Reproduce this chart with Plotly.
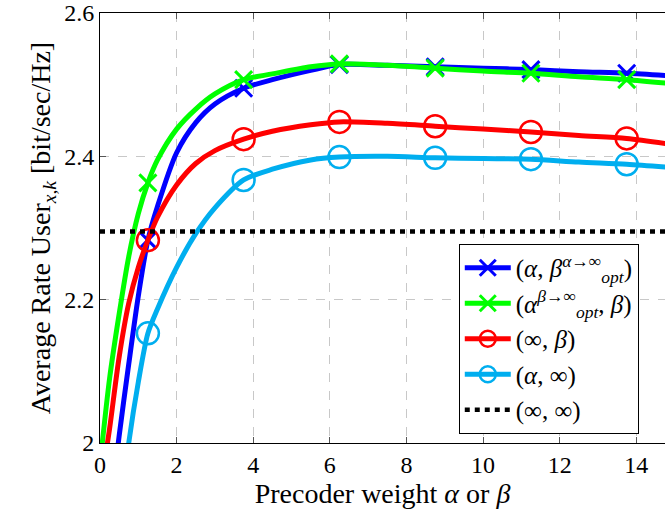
import plotly.graph_objects as go

# ---------------- data ----------------
x_curve = [0, 0.25, 0.5, 0.75, 1.0, 1.25, 1.5, 2.0, 2.5, 3.0, 3.75, 4.5, 5.5,
           6.25, 7.5, 8.75, 10.0, 11.25, 12.5, 13.75, 15.0]

rate_alpha_betaopt = [1.80, 1.90, 2.01, 2.11, 2.205, 2.283, 2.33, 2.405, 2.447, 2.473,
                      2.495, 2.507, 2.52, 2.528, 2.527, 2.525, 2.523, 2.521, 2.518, 2.516, 2.512]
rate_alphaopt_beta = [1.97, 2.09, 2.18, 2.26, 2.32, 2.363, 2.395, 2.438, 2.466, 2.487,
                      2.507, 2.515, 2.525, 2.529, 2.527, 2.523, 2.519, 2.516, 2.511, 2.507, 2.501]
rate_inf_beta = [1.93, 2.02, 2.12, 2.195, 2.245, 2.283, 2.315, 2.36, 2.39, 2.408,
                 2.424, 2.435, 2.444, 2.448, 2.446, 2.442, 2.438, 2.434, 2.429, 2.425, 2.416]
rate_alpha_inf = [1.60, 1.75, 1.89, 2.0, 2.085, 2.153, 2.187, 2.245, 2.292, 2.328,
                  2.367, 2.382, 2.395, 2.399, 2.4, 2.398, 2.397, 2.396, 2.392, 2.389, 2.384]
x_ref = [0, 15]
rate_inf_inf = [2.295, 2.295]

marker_x = [1.25, 3.75, 6.25, 8.75, 11.25, 13.75]

x_ticks = [0, 2, 4, 6, 8, 10, 12, 14]
y_ticks = [2.0, 2.2, 2.4, 2.6]
y_tick_labels = ["2", "2.2", "2.4", "2.6"]

names = ["(<i>α</i>, <i>β</i><sup><i>α</i>→∞</sup><sub><i>opt</i></sub>)",
         "(<i>α</i><sup><i>β</i>→∞</sup><sub><i>opt</i></sub>, <i>β</i>)",
         "(∞, <i>β</i>)",
         "(<i>α</i>, ∞)",
         "(∞, ∞)"]

# ---------------- figure ----------------
FONT = "Liberation Serif"
fig = go.Figure()

series = [
    (rate_alpha_betaopt, "#0000ff", "x-thin-open", 17, 3),
    (rate_alphaopt_beta, "#00ff00", "x-thin-open", 17, 3),
    (rate_inf_beta, "#ff0000", "circle-open", 22, 2.5),
    (rate_alpha_inf, "#00aeef", "circle-open", 22, 2.5),
]

for i, (vals, col, sym, msz, mlw) in enumerate(series):
    mk_idx = [x_curve.index(m) for m in marker_x]
    fig.add_trace(go.Scatter(x=x_curve, y=vals, mode="lines",
                             line=dict(color=col, width=5, shape="spline", smoothing=0.8),
                             showlegend=False, hoverinfo="skip"))
    fig.add_trace(go.Scatter(x=[x_curve[k] for k in mk_idx], y=[vals[k] for k in mk_idx],
                             mode="markers",
                             marker=dict(symbol=sym, size=msz, color=col,
                                         line=dict(color=col, width=mlw)),
                             showlegend=False, hoverinfo="skip"))
    # legend entry
    fig.add_trace(go.Scatter(x=[None], y=[None], mode="lines+markers", name=names[i],
                             legendgroup=f"g{i}",
                             line=dict(color=col, width=5),
                             marker=dict(symbol=sym, size=msz, color=col,
                                         line=dict(color=col, width=mlw))))

fig.add_trace(go.Scatter(x=x_ref, y=rate_inf_inf, mode="lines", name=names[4],
                         legendgroup="g4",
                         line=dict(color="black", width=4.5, dash="5px,5px")))

fig.update_layout(
    width=665, height=518,
    margin=dict(l=100, r=0, t=13, b=75),
    paper_bgcolor="white", plot_bgcolor="white",
    font=dict(family=FONT, size=24, color="black"),
    showlegend=True,
    legend=dict(x=0.635, y=0.021, xanchor="left", yanchor="bottom",
                bgcolor="white", bordercolor="black", borderwidth=1,
                font=dict(family=FONT, size=25), itemwidth=46,
                tracegroupgap=0),
)

fig.update_xaxes(range=[0, 14.75], tickvals=x_ticks, ticks="inside", ticklen=6,
                 tickcolor="#555555", showline=True, linecolor="black", linewidth=1,
                 mirror="ticks", showgrid=True, gridcolor="#c8c8c8", griddash="dash",
                 gridwidth=1, zeroline=False, tickfont=dict(size=24), automargin=False,
                 ticklabeloverflow="allow",
                 title=dict(text="Precoder weight <i>α</i> or <i>β</i>", standoff=6,
                            font=dict(size=28)))
fig.update_yaxes(range=[2.0, 2.6], tickvals=y_ticks, ticktext=y_tick_labels,
                 ticks="inside", ticklen=6, tickcolor="#555555", showline=True,
                 linecolor="black", linewidth=1, mirror=False, showgrid=True,
                 gridcolor="#c8c8c8", griddash="dash", gridwidth=1, zeroline=False,
                 tickfont=dict(size=24), automargin=False, ticklabeloverflow="allow",
                 title=dict(text="Average Rate User<sub><i>x,k</i></sub> [bit/sec/Hz]",
                            standoff=5, font=dict(size=28)))

# remove the default 8px page margin so the figure sits at the window origin
fig.write_html("out.html", config={"displayModeBar": False},
               post_script="document.body.style.margin='0px';")
